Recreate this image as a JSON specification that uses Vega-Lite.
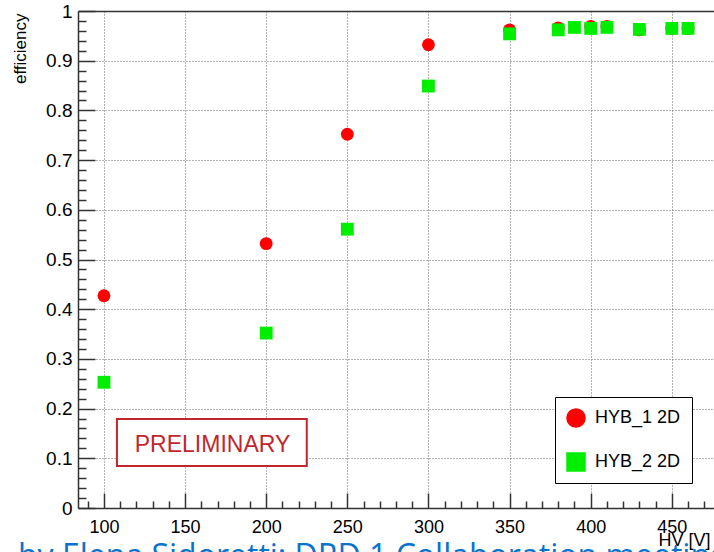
{
  "$schema": "https://vega.github.io/schema/vega-lite/v6.json",
  "width": 636,
  "height": 497,
  "autosize": "none",
  "padding": {"left": 78, "top": 11, "right": 0, "bottom": 44},
  "background": "white",
  "config": {
    "view": {"stroke": null},
    "font": "Liberation Sans",
    "axis": {"labelFont": "Liberation Sans", "titleFont": "Liberation Sans", "labelColor": "black", "titleColor": "black", "titleFontWeight": "normal"}
  },
  "title": {
    "text": "by Elena Sidoretti: DRD 1 Collaboration meeting",
    "orient": "bottom",
    "anchor": "start",
    "frame": "group",
    "font": "Open Sans",
    "fontSize": 32,
    "fontWeight": "normal",
    "color": "#0b72c9",
    "dx": -60,
    "offset": -7,
    "baseline": "top"
  },
  "datasets": {
    "pts": [
      {"hv": 100, "eff": 0.427, "series": "HYB_1 2D"},
      {"hv": 200, "eff": 0.532, "series": "HYB_1 2D"},
      {"hv": 250, "eff": 0.752, "series": "HYB_1 2D"},
      {"hv": 300, "eff": 0.932, "series": "HYB_1 2D"},
      {"hv": 350, "eff": 0.962, "series": "HYB_1 2D"},
      {"hv": 380, "eff": 0.966, "series": "HYB_1 2D"},
      {"hv": 400, "eff": 0.969, "series": "HYB_1 2D"},
      {"hv": 410, "eff": 0.969, "series": "HYB_1 2D"},
      {"hv": 430, "eff": 0.962, "series": "HYB_1 2D"},
      {"hv": 450, "eff": 0.965, "series": "HYB_1 2D"},
      {"hv": 460, "eff": 0.965, "series": "HYB_1 2D"},
      {"hv": 100, "eff": 0.253, "series": "HYB_2 2D"},
      {"hv": 200, "eff": 0.352, "series": "HYB_2 2D"},
      {"hv": 250, "eff": 0.561, "series": "HYB_2 2D"},
      {"hv": 300, "eff": 0.849, "series": "HYB_2 2D"},
      {"hv": 350, "eff": 0.954, "series": "HYB_2 2D"},
      {"hv": 380, "eff": 0.962, "series": "HYB_2 2D"},
      {"hv": 390, "eff": 0.967, "series": "HYB_2 2D"},
      {"hv": 400, "eff": 0.965, "series": "HYB_2 2D"},
      {"hv": 410, "eff": 0.967, "series": "HYB_2 2D"},
      {"hv": 430, "eff": 0.963, "series": "HYB_2 2D"},
      {"hv": 450, "eff": 0.965, "series": "HYB_2 2D"},
      {"hv": 460, "eff": 0.965, "series": "HYB_2 2D"}
    ],
    "box": [{"x1": 108, "x2": 225, "y1": 0.0845, "y2": 0.179, "label": "PRELIMINARY", "tx": 166.9, "ty": 0.1133}]
  },
  "layer": [
    {
      "data": {"name": "pts"},
      "mark": {"type": "point", "opacity": 0},
      "encoding": {
        "x": {"field": "hv", "type": "quantitative", "scale": {"domain": [84, 476], "nice": false, "zero": false},
          "axis": {"orient": "bottom", "values": [90,110,120,130,140,160,170,180,190,210,220,230,240,260,270,280,290,310,320,330,340,360,370,380,390,410,420,430,440,460,470],
            "labels": false, "grid": false, "domain": false, "ticks": true, "title": null, "tickColor": "#333", "tickWidth": 1.5, "tickSize": -7}},
        "y": {"field": "eff", "type": "quantitative", "scale": {"domain": [0, 1], "nice": false, "zero": false},
          "axis": {"orient": "left", "values": [0.02,0.04,0.06,0.08,0.12,0.14,0.16,0.18,0.22,0.24,0.26,0.28,0.32,0.34,0.36,0.38,0.42,0.44,0.46,0.48,0.52,0.54,0.56,0.58,0.62,0.64,0.66,0.68,0.72,0.74,0.76,0.78,0.82,0.84,0.86,0.88,0.92,0.94,0.96,0.98],
            "labels": false, "grid": false, "domain": false, "ticks": true, "title": null, "tickColor": "#333", "tickWidth": 1.5, "tickSize": -8}}
      }
    },
    {
      "data": {"name": "pts"},
      "mark": {"type": "point", "opacity": 0},
      "encoding": {
        "x": {"field": "hv", "type": "quantitative", "scale": {"domain": [84, 476], "nice": false, "zero": false},
          "axis": {"orient": "bottom", "values": [100,150,200,250,300,350,400,450],
            "labels": false, "grid": false, "domain": false, "ticks": true, "title": null, "tickColor": "#333", "tickWidth": 1.5, "tickSize": -15}},
        "y": {"field": "eff", "type": "quantitative", "scale": {"domain": [0, 1], "nice": false, "zero": false},
          "axis": {"orient": "left", "values": [0,0.1,0.2,0.3,0.4,0.5,0.6,0.7,0.8,0.9,1],
            "labels": false, "grid": false, "domain": false, "ticks": true, "title": null, "tickColor": "#333", "tickWidth": 1.5, "tickSize": -17}}
      }
    },
    {
      "data": {"name": "pts"},
      "mark": {"type": "point", "opacity": 0},
      "encoding": {
        "x": {"field": "hv", "type": "quantitative", "scale": {"domain": [84, 476], "nice": false, "zero": false},
          "axis": {"orient": "top", "labels": false, "grid": false, "ticks": false, "domain": true, "domainColor": "#333", "domainWidth": 1.5, "title": null}},
        "y": {"field": "eff", "type": "quantitative", "scale": {"domain": [0, 1], "nice": false, "zero": false}, "axis": null}
      }
    },
    {
      "data": {"name": "box"},
      "mark": {"type": "rect", "fill": "white", "stroke": "#c0272d", "strokeWidth": 2},
      "encoding": {
        "x": {"field": "x1", "type": "quantitative", "scale": {"domain": [84, 476], "nice": false, "zero": false}, "axis": null},
        "x2": {"field": "x2"},
        "y": {"field": "y1", "type": "quantitative", "scale": {"domain": [0, 1], "nice": false, "zero": false}, "axis": null},
        "y2": {"field": "y2"}
      }
    },
    {
      "data": {"name": "box"},
      "mark": {"type": "text", "color": "#c0272d", "fontSize": 23, "font": "Liberation Sans", "align": "center", "baseline": "alphabetic"},
      "encoding": {
        "x": {"field": "tx", "type": "quantitative", "scale": {"domain": [84, 476], "nice": false, "zero": false}, "axis": null},
        "y": {"field": "ty", "type": "quantitative", "scale": {"domain": [0, 1], "nice": false, "zero": false}, "axis": null},
        "text": {"field": "label"}
      }
    },
    {
      "data": {"name": "pts"},
      "mark": {"type": "point", "filled": true, "opacity": 1, "size": 165, "strokeWidth": 0},
      "encoding": {
        "x": {"field": "hv", "type": "quantitative", "scale": {"domain": [84, 476], "nice": false, "zero": false},
          "axis": {"orient": "bottom", "values": [100,150,200,250,300,350,400,450], "ticks": false, "labelPadding": 10, "labelFontSize": 18,
            "grid": true, "gridColor": "#666", "gridDash": [1, 2], "gridWidth": 1, "domain": true, "domainColor": "#333", "domainWidth": 1.5,
            "labelFlush": false, "labelOverlap": false,
            "title": "HV [V]", "titleFontSize": 18, "titleX": 580, "titleY": 37, "titleAlign": "left", "titleBaseline": "alphabetic", "titleAnchor": null}},
        "y": {"field": "eff", "type": "quantitative", "scale": {"domain": [0, 1], "nice": false, "zero": false},
          "axis": {"orient": "left", "values": [0,0.1,0.2,0.3,0.4,0.5,0.6,0.7,0.8,0.9,1], "format": "~g", "ticks": false, "labelPadding": 6, "labelFontSize": 19,
            "grid": true, "gridColor": "#666", "gridDash": [1, 2], "gridWidth": 1, "domain": true, "domainColor": "#333", "domainWidth": 1.5,
            "labelFlush": false, "labelOverlap": false,
            "title": "efficiency", "titleFontSize": 17, "titleAngle": 270, "titleX": -53, "titleY": 2, "titleAlign": "right", "titleBaseline": "alphabetic"}},
        "color": {"field": "series", "type": "nominal", "scale": {"domain": ["HYB_1 2D", "HYB_2 2D"], "range": ["#ff0000", "#00ee00"]},
          "legend": {"orient": "none", "legendX": 477, "legendY": 386, "title": null, "strokeColor": "black", "fillColor": "white", "padding": 11, "rowPadding": 24,
            "symbolSize": 380, "labelFontSize": 18, "labelFont": "Liberation Sans", "labelColor": "black", "labelOffset": 9, "symbolStrokeWidth": 0, "cornerRadius": 0}},
        "shape": {"field": "series", "type": "nominal", "scale": {"domain": ["HYB_1 2D", "HYB_2 2D"], "range": ["circle", "square"]}}
      }
    }
  ],
  "resolve": {"axis": {"x": "independent", "y": "independent"}}
}
